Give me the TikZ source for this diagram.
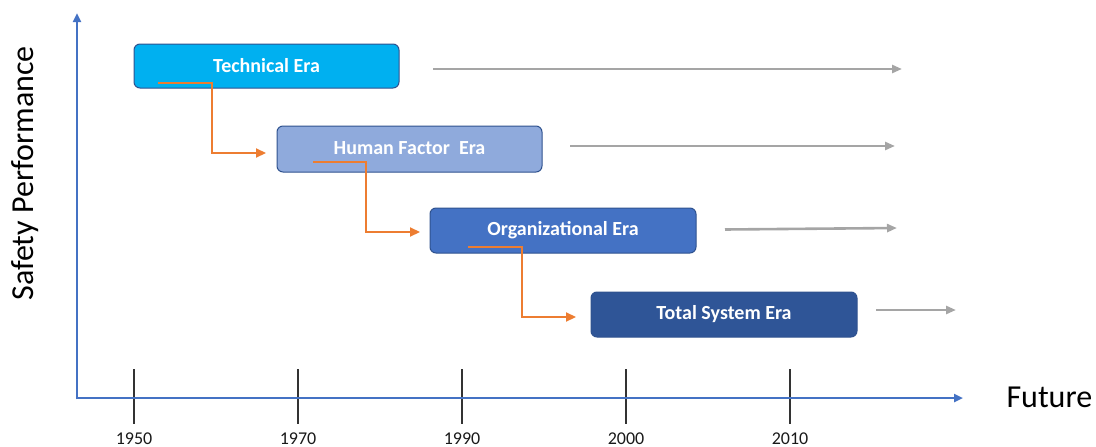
\documentclass[tikz,border=0pt]{standalone}
\usepackage{fontspec}
\setmainfont{Carlito}
\usetikzlibrary{arrows.meta}
\definecolor{axisblue}{HTML}{4472C4}
\definecolor{techc}{HTML}{00B0F0}
\definecolor{humanc}{HTML}{8FAADC}
\definecolor{orgc}{HTML}{4472C4}
\definecolor{totc}{HTML}{2F5597}
\definecolor{edgec}{HTML}{2F528F}
\definecolor{orangec}{HTML}{ED7D31}
\definecolor{grayc}{HTML}{A5A5A5}
\tikzset{
  erabox/.style={draw=edgec, line width=1pt, rounded corners=6pt, minimum width=265pt, minimum height=45pt, inner sep=0pt, text=white, font=\fontsize{20}{22}\selectfont\bfseries},
  flow/.style={draw=orangec, line width=2.2pt, -{Triangle[length=10pt,width=9pt]}},
  trend/.style={draw=grayc, line width=2.6pt, -{Triangle[length=10pt,width=8pt]}},
  axisline/.style={draw=axisblue, line width=2.5pt, -{Triangle[length=9pt,width=8pt]}},
  tickline/.style={draw=black!80, line width=1.3pt},
  yearlab/.style={font=\fontsize{18}{19}\selectfont, anchor=base, inner sep=0pt, text=black!90},
  bigLab/.style={font=\fontsize{32}{34}\selectfont, text=black}
}
\begin{document}
\begin{tikzpicture}[x=1pt,y=-1pt]
\useasboundingbox (0,0) rectangle (1096,447);
% axes
\coordinate (O) at (77,398);
\coordinate (ytip) at (77,13);
\coordinate (xtip) at (963,398);
\foreach \x/\yr [count=\i] in {134/1950,298/1970,462/1990,626/2000,790/2010}{
  \coordinate (tt\i) at (\x,369);
  \coordinate (tb\i) at (\x,424);
  \draw[tickline] (tt\i) -- (tb\i);
  \node[yearlab] (yr\i) at (\x,444) {\yr};
}
\draw[axisline] ([yshift=-1.25pt]O) -- (ytip);
\draw[axisline] ([xshift=-1.25pt]O) -- (xtip);
\node[bigLab, rotate=90, anchor=base] (ylab) at (33,173.5) {Safety Performance};
\node[bigLab, anchor=base west] (xlab) at (1003,407) {Future};
% boxes
\node[erabox, fill=techc, minimum height=44pt] (b1) at (266.5,66) {\raisebox{1.5pt}{Technical Era}};
\node[erabox, fill=humanc, minimum height=46pt] (b2) at (409.5,149) {\raisebox{1.5pt}{Human Factor\ \ Era}};
\node[erabox, fill=orgc, minimum width=266pt] (b3) at (563,230.5) {\raisebox{1.5pt}{Organizational Era}};
\node[erabox, fill=totc, minimum width=266pt] (b4) at (724,314.5) {\raisebox{1.5pt}{Total System Era}};
% orange flow connectors
\coordinate (s1) at (158,83);
\coordinate (e1) at (266,153);
\coordinate (s2) at (313,162);
\coordinate (e2) at (420,232);
\coordinate (s3) at (468,247);
\coordinate (e3) at (576,317);
\draw[flow] (s1) -- (212,83) -- (212,153) -- (e1);
\draw[flow] (s2) -- (366,162) -- (366,232) -- (e2);
\draw[flow] (s3) -- (522,247) -- (522,317) -- (e3);
% gray trend arrows
\coordinate (g1a) at (433,69);
\coordinate (g1b) at (902,69);
\coordinate (g2a) at (570,146);
\coordinate (g2b) at (895,146);
\coordinate (g3a) at (725,229.5);
\coordinate (g3b) at (897,228);
\coordinate (g4a) at (876,310);
\coordinate (g4b) at (956,310);
\draw[trend] (g1a) -- (g1b);
\draw[trend] (g2a) -- (g2b);
\draw[trend] (g3a) -- (g3b);
\draw[trend] (g4a) -- (g4b);
\end{tikzpicture}
\end{document}
